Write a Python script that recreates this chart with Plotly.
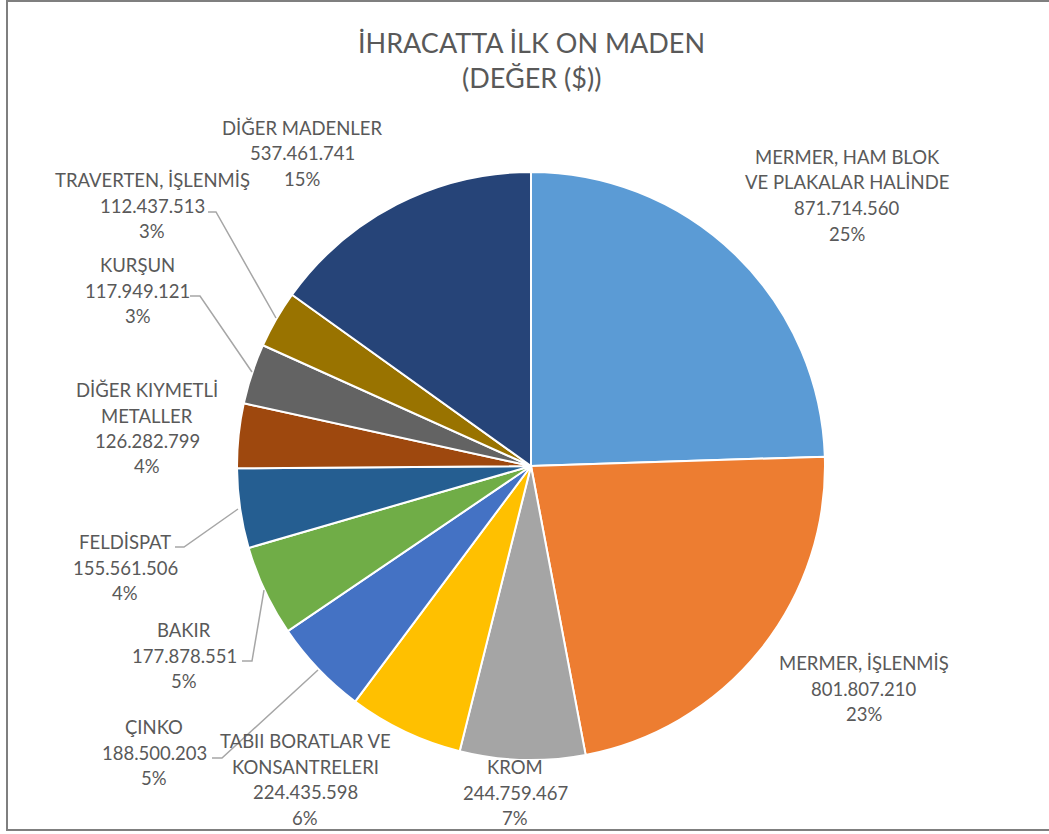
import plotly.graph_objects as go

# ---- data ----
categories = [
    "MERMER, HAM BLOK VE PLAKALAR HALİNDE",
    "MERMER, İŞLENMİŞ",
    "KROM",
    "TABII BORATLAR VE KONSANTRELERI",
    "ÇINKO",
    "BAKIR",
    "FELDİSPAT",
    "DİĞER KIYMETLİ METALLER",
    "KURŞUN",
    "TRAVERTEN, İŞLENMİŞ",
    "DİĞER MADENLER",
]
values = [871714560, 801807210, 244759467, 224435598, 188500203, 177878551,
          155561506, 126282799, 117949121, 112437513, 537461741]
label_lines = [
    ["MERMER, HAM BLOK", "VE PLAKALAR HALİNDE"],
    ["MERMER, İŞLENMİŞ"],
    ["KROM"],
    ["TABII BORATLAR VE", "KONSANTRELERI"],
    ["ÇINKO"],
    ["BAKIR"],
    ["FELDİSPAT"],
    ["DİĞER KIYMETLİ", "METALLER"],
    ["KURŞUN"],
    ["TRAVERTEN, İŞLENMİŞ"],
    ["DİĞER MADENLER"],
]
colors = ["#5B9BD5", "#ED7D31", "#A5A5A5", "#FFC000", "#4472C4", "#70AD47",
          "#255E91", "#9E480E", "#636363", "#997300", "#264478"]
title_lines = ["İHRACATTA İLK ON MADEN", "(DEĞER ($))"]

W, H = 1049, 834
FONT = "Lato"
TXT = "#595959"

def px(x):
    return x / W

def py(y):
    return 1 - y / H

def fmt(v):
    return f"{v:,}".replace(",", ".")

# percentages rounded so they sum to 100 (largest remainder, like Excel)
total = sum(values)
raw = [v / total * 100 for v in values]
pcts = [int(r) for r in raw]
order = sorted(range(len(raw)), key=lambda i: raw[i] - pcts[i], reverse=True)
for i in order[: 100 - sum(pcts)]:
    pcts[i] += 1

fig = go.Figure()
fig.add_trace(go.Pie(
    labels=categories,
    values=values,
    sort=False,
    direction="clockwise",
    rotation=0,
    marker=dict(colors=colors, line=dict(color="white", width=2)),
    textinfo="none",
    showlegend=False,
    domain=dict(x=[px(237), px(825)], y=[py(760), py(172)]),
    hovertemplate="%{label}<br>%{value:,}<br>%{percent}<extra></extra>",
))

# label block positions (center x, first line y) in pixels
label_pos = [
    (847, 157), (864, 663), (515, 767), (305, 741), (154, 727), (184, 630),
    (125, 542), (147, 390), (138, 265), (152, 180), (302, 128),
]
LINE = 25.5
annotations = []
for i, (cx, y0) in enumerate(label_pos):
    lines = label_lines[i] + [fmt(values[i]), f"{pcts[i]}%"]
    for k, t in enumerate(lines):
        annotations.append(dict(
            x=px(cx), y=py(y0 + k * LINE), xref="paper", yref="paper",
            text=t, showarrow=False, xanchor="center", yanchor="middle",
            font=dict(family=FONT, size=18.5, color=TXT),
        ))

for k, t in enumerate(title_lines):
    annotations.append(dict(
        x=px(531), y=py(42 + k * 36), xref="paper", yref="paper",
        text=t, showarrow=False, xanchor="center", yanchor="middle",
        font=dict(family=FONT, size=27, color=TXT),
    ))

# leader lines (pixel paths)
leaders = [
    [(208, 212), (216, 212), (276, 318)],
    [(190, 296), (200, 296), (252, 372)],
    [(175, 547), (184, 547), (238, 509)],
    [(242, 661), (252, 661), (264, 590)],
    [(212, 758), (222, 758), (318, 670)],
]
shapes = []
for pts in leaders:
    path = "M " + " L ".join(f"{px(x)},{py(y)}" for x, y in pts)
    shapes.append(dict(type="path", path=path, xref="paper", yref="paper",
                       line=dict(color="#A6A6A6", width=1.5)))

# chart border
shapes.append(dict(type="rect", xref="paper", yref="paper",
                   x0=px(7), x1=px(1060), y0=py(830), y1=py(1),
                   line=dict(color="#7F7F7F", width=2)))

fig.update_layout(
    width=W, height=H,
    margin=dict(l=0, r=0, t=0, b=0),
    paper_bgcolor="white",
    annotations=annotations,
    shapes=shapes,
    font=dict(family=FONT),
)

fig.write_html(
    "out.html",
    config={"displayModeBar": False},
    post_script="document.body.style.margin='0';document.body.style.overflow='hidden';",
)
